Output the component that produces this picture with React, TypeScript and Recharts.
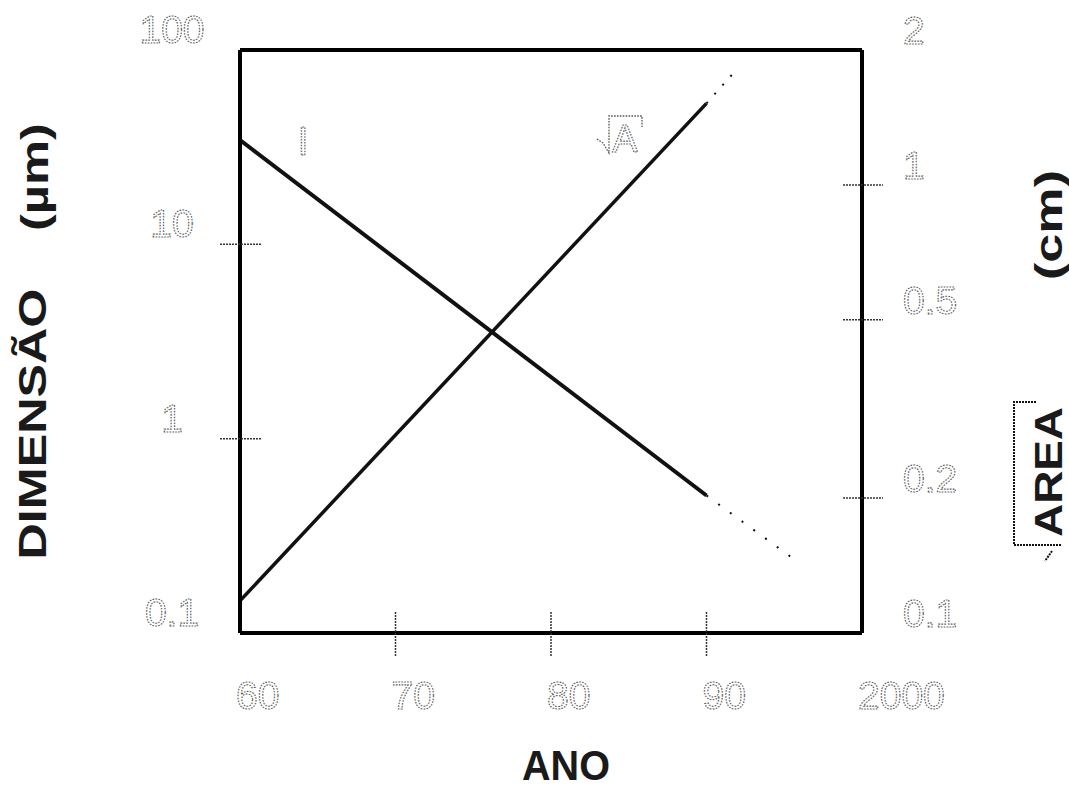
import { LineChart, Line, XAxis, YAxis, ReferenceLine } from 'recharts';

// x axis: years, printed as two digits except the last one
const xTicks = [1960, 1970, 1980, 1990, 2000];
const xTickLabels = ['60', '70', '80', '90', '2000'];

// left axis: feature size (µm), log scale
const dimTicks = [0.1, 1, 10, 100];
const dimTickLabels = ['0.1', '1', '10', '100'];

// right axis: sqrt of chip area (cm), log scale
const areaTicks = [0.1, 0.2, 0.5, 1, 2];
const areaTickLabels = ['0.1', '0.2', '0.5', '1', '2'];

// l (µm): measured trend, then extrapolation
const dimYears = [1960, 1990];
const dimValues = [34.4, 0.51];
const dimTrendYears = [1990, 1996];
const dimTrendValues = [0.51, 0.228];

// √A (cm): measured trend, then extrapolation
const areaYears = [1960, 1990];
const areaValues = [0.118, 1.52];
const areaTrendYears = [1990, 1992];
const areaTrendValues = [1.52, 1.82];

const toPoints = (xs: number[], vs: number[]) => xs.map((year, i) => ({ year, v: vs[i] }));

const W = 1069;
const H = 788;

const digitStyle: React.CSSProperties = {
  fontFamily: '"Liberation Sans", Arial, sans-serif',
  fontSize: 39,
  fill: 'none',
  stroke: '#555',
  strokeWidth: 1.1,
  strokeDasharray: '1.6 1.3',
};

const titleStyle: React.CSSProperties = {
  fontFamily: '"Liberation Sans", Arial, sans-serif',
  fontSize: 39,
  fontWeight: 'bold',
  fill: '#1a1a1a',
};

const tickStroke = { stroke: '#333', strokeWidth: 1.5, strokeDasharray: '2 1' };

function DimTick({ x, y, payload }: any) {
  const v = payload.value;
  const edge = v === dimTicks[0] || v === dimTicks[dimTicks.length - 1];
  return (
    <g>
      {!edge && <line x1={x - 20} x2={x + 22} y1={y} y2={y} {...tickStroke} />}
      <text x={x - 68} y={y - 7} textAnchor="middle" style={digitStyle}>
        {dimTickLabels[dimTicks.indexOf(v)]}
      </text>
    </g>
  );
}

function AreaTick({ x, y, payload }: any) {
  const v = payload.value;
  const edge = v === areaTicks[0] || v === areaTicks[areaTicks.length - 1];
  return (
    <g>
      {!edge && <line x1={x - 19} x2={x + 21} y1={y} y2={y} {...tickStroke} />}
      <text x={x + 41} y={y - 6} textAnchor="start" style={digitStyle}>
        {areaTickLabels[areaTicks.indexOf(v)]}
      </text>
    </g>
  );
}

function YearTick({ x, y, payload }: any) {
  const v = payload.value;
  const edge = v === xTicks[0] || v === xTicks[xTicks.length - 1];
  return (
    <g>
      {!edge && <line x1={x} x2={x} y1={y - 21} y2={y + 24} {...tickStroke} />}
      <text x={x - 4} y={y + 76} textAnchor="start" style={digitStyle}>
        {xTickLabels[xTicks.indexOf(v)]}
      </text>
    </g>
  );
}

export default function App() {
  return (
    <div style={{ position: 'absolute', left: 0, top: 0, width: W, height: H, background: '#fff' }}>
      <LineChart width={W} height={H} margin={{ top: 50, right: 0, bottom: 0, left: 0 }}>
        <XAxis
          xAxisId="x"
          type="number"
          dataKey="year"
          domain={[1960, 2000]}
          ticks={xTicks}
          interval={0}
          allowDataOverflow
          height={155}
          axisLine={{ stroke: '#000', strokeWidth: 4 }}
          tickLine={false}
          tickSize={0}
          tickMargin={0}
          tick={<YearTick />}
        />
        <YAxis
          yAxisId="dim"
          orientation="left"
          scale="log"
          domain={[0.1, 100]}
          ticks={dimTicks}
          interval={0}
          allowDataOverflow
          width={240}
          axisLine={{ stroke: '#000', strokeWidth: 4 }}
          tickLine={false}
          tickSize={0}
          tickMargin={0}
          tick={<DimTick />}
        />
        <YAxis
          yAxisId="area"
          orientation="right"
          scale="log"
          domain={[0.1, 2]}
          ticks={areaTicks}
          interval={0}
          allowDataOverflow
          width={207}
          axisLine={{ stroke: '#000', strokeWidth: 4 }}
          tickLine={false}
          tickSize={0}
          tickMargin={0}
          tick={<AreaTick />}
        />
        <ReferenceLine xAxisId="x" yAxisId="dim" y={100} stroke="#000" strokeWidth={4} />

        <Line
          xAxisId="x"
          yAxisId="dim"
          data={toPoints(dimYears, dimValues)}
          dataKey="v"
          type="linear"
          stroke="#111"
          strokeWidth={4}
          dot={false}
          isAnimationActive={false}
        />
        <Line
          xAxisId="x"
          yAxisId="dim"
          data={toPoints(dimTrendYears, dimTrendValues)}
          dataKey="v"
          type="linear"
          stroke="#111"
          strokeWidth={2}
          strokeDasharray="2 12.5"
          dot={false}
          isAnimationActive={false}
        />
        <Line
          xAxisId="x"
          yAxisId="area"
          data={toPoints(areaYears, areaValues)}
          dataKey="v"
          type="linear"
          stroke="#111"
          strokeWidth={3.5}
          dot={false}
          isAnimationActive={false}
        />
        <Line
          xAxisId="x"
          yAxisId="area"
          data={toPoints(areaTrendYears, areaTrendValues)}
          dataKey="v"
          type="linear"
          stroke="#111"
          strokeWidth={2}
          strokeDasharray="2 10"
          dot={false}
          isAnimationActive={false}
        />
      </LineChart>

      {/* titles and curve labels */}
      <svg
        width={W}
        height={H}
        style={{ position: 'absolute', left: 0, top: 0, pointerEvents: 'none' }}
      >
        <text transform="translate(46,424) rotate(-90)" textAnchor="middle" textLength={271} lengthAdjust="spacingAndGlyphs" style={titleStyle}>
          DIMENSÃO
        </text>
        <text transform="translate(48,177) rotate(-90)" textAnchor="middle" textLength={108} lengthAdjust="spacingAndGlyphs" style={titleStyle}>
          (µm)
        </text>

        <text transform="translate(1062,225) rotate(-90)" textAnchor="middle" textLength={110} lengthAdjust="spacingAndGlyphs" style={titleStyle}>
          (cm)
        </text>
        <text transform="translate(1062,472) rotate(-90)" textAnchor="middle" textLength={130} lengthAdjust="spacingAndGlyphs" style={titleStyle}>
          AREA
        </text>
        <path d="M1036 402 L1014 402 L1014 545 L1062 545 M1052 551 L1045 561" fill="none" stroke="#111" strokeWidth={2} strokeDasharray="2 1" />

        <text x={566} y={780} textAnchor="middle" textLength={88} lengthAdjust="spacingAndGlyphs" style={{ ...titleStyle, fontSize: 42 }}>
          ANO
        </text>

        <text x={303} y={155} textAnchor="middle" style={digitStyle}>
          l
        </text>
        <text x={625} y={152} textAnchor="middle" style={{ ...digitStyle, fontSize: 38 }}>
          A
        </text>
        <path d="M597 139 L603 143 L609 153 L609 116 L642 116 L642 127" fill="none" stroke="#555" strokeWidth={1.3} strokeDasharray="1.6 1.3" />
      </svg>
    </div>
  );
}
